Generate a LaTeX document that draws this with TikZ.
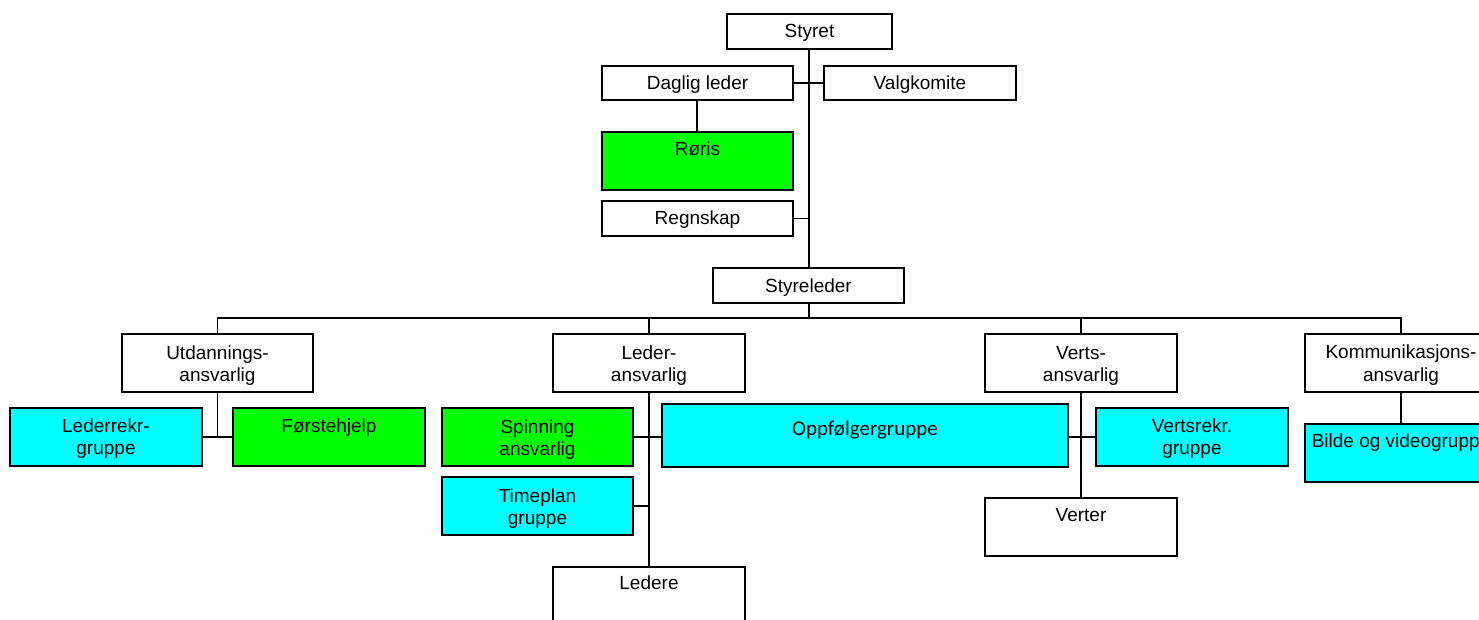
\documentclass[tikz,border=0pt]{standalone}
\usepackage{fontspec}
\setmainfont{Liberation Sans}
\newfontfamily\calfont{Carlito}
\definecolor{boxgreen}{RGB}{0,255,0}
\definecolor{boxcyan}{RGB}{0,255,255}
\begin{document}
\begin{tikzpicture}[x=1pt,y=-1pt,
  box/.style={draw=black,line width=1.2pt,inner sep=0pt,minimum height=35pt,minimum width=191pt},
  tall/.style={box,minimum height=58pt},
  greenbox/.style={fill=boxgreen},
  cyanbox/.style={fill=boxcyan},
  txt/.style={anchor=base,inner sep=0pt,font=\fontsize{19}{22}\selectfont},
  conn/.style={draw=black,line width=1.2pt}]
\useasboundingbox (0,0) rectangle (1479,620);
\clip (0,0) rectangle (1479,620);
\fill[white] (0,0) rectangle (1479,620);
% boxes
\node[box,minimum width=165pt] (styret) at (809.5,31.5) {};
\node[box,minimum height=34pt] (daglig) at (697.5,83) {};
\node[box,minimum height=34pt,minimum width=192pt] (valg) at (920,83) {};
\node[tall,greenbox] (roris) at (697.5,161) {};
\node[box] (regnskap) at (697.5,218.5) {};
\node[box] (styreleder) at (808.5,285.5) {};
\node[tall] (utd) at (217.5,363) {};
\node[tall,minimum width=192pt] (leder) at (649,363) {};
\node[tall,minimum width=192pt] (verts) at (1081,363) {};
\node[tall,minimum width=192pt] (komm) at (1401,363) {};
\node[tall,cyanbox,minimum width=192pt] (lederrekr) at (106,437) {};
\node[tall,greenbox,minimum width=192pt] (forste) at (329,437) {};
\node[tall,greenbox] (spinning) at (537.5,437) {};
\node[tall,cyanbox] (timeplan) at (537.5,506) {};
\node[box,cyanbox,line width=2.2pt,minimum width=406pt,minimum height=63pt] (oppf) at (865,435.5) {};
\node[tall,cyanbox,minimum width=192pt] (vertsrekr) at (1192,437) {};
\node[tall,minimum width=192pt] (verter) at (1081,527) {};
\node[tall,cyanbox,minimum width=192pt] (bilde) at (1401,453) {};
\node[tall,minimum width=192pt] (ledere) at (649,596) {};
% texts
\node[txt] (t-styret) at (809.5,38) {Styret};
\node[txt] (t-daglig) at (697.5,89.5) {Daglig leder};
\node[txt] (t-valg) at (920,89.5) {Valgkomite};
\node[txt] (t-roris) at (697.5,156) {Røris};
\node[txt] (t-regnskap) at (697.5,225) {Regnskap};
\node[txt] (t-styreleder) at (808.5,292) {Styreleder};
\node[txt] (t-utd1) at (217.5,359) {Utdannings-};
\node[txt] (t-utd2) at (217.5,381) {ansvarlig};
\node[txt] (t-leder1) at (649,359) {Leder-};
\node[txt] (t-leder2) at (649,381) {ansvarlig};
\node[txt] (t-verts1) at (1081,359) {Verts-};
\node[txt] (t-verts2) at (1081,381) {ansvarlig};
\node[txt] (t-komm1) at (1401,358) {Kommunikasjons-};
\node[txt] (t-komm2) at (1401,381) {ansvarlig};
\node[txt] (t-lederrekr1) at (106,432) {Lederrekr-};
\node[txt] (t-lederrekr2) at (106,454) {gruppe};
\node[txt] (t-forste) at (329,432) {Førstehjelp};
\node[txt] (t-spinning1) at (537.5,433) {Spinning};
\node[txt] (t-spinning2) at (537.5,455) {ansvarlig};
\node[txt] (t-timeplan1) at (537.5,502) {Timeplan};
\node[txt] (t-timeplan2) at (537.5,524) {gruppe};
\node[txt,font=\calfont\fontsize{21}{25}\selectfont] (t-oppf) at (865,435) {Oppfølgergruppe};
\node[txt] (t-vertsrekr1) at (1192,432) {Vertsrekr.};
\node[txt] (t-vertsrekr2) at (1192,454) {gruppe};
\node[txt] (t-verter) at (1081,521.5) {Verter};
\node[txt] (t-bilde) at (1401,447.5) {Bilde og videogruppe};
\node[txt] (t-ledere) at (649,589.5) {Ledere};
% connectors
\coordinate (bus) at (809,318);
\draw[conn] (809,49) -- (809,268);
\draw[conn] (daglig.east) -- (valg.west);
\draw[conn] (697,100) -- (697,132);
\draw[conn] (regnskap.east) -- (809,218.5);
\draw[conn] (809,303) -- (bus);
\draw[conn] (utd.north) |- (komm.north |- bus) -- (komm.north);
\draw[conn] (leder.north) -- (leder.north |- bus);
\draw[conn] (verts.north) -- (verts.north |- bus);
\draw[conn] (utd.south) -- (utd.south |- lederrekr.east);
\draw[conn] (lederrekr.east) -- (forste.west);
\draw[conn] (leder.south) -- (ledere.north);
\draw[conn] (spinning.east) -- (spinning.east -| oppf.west);
\draw[conn] (timeplan.east) -- (timeplan.east -| leder.south);
\draw[conn] (verts.south) -- (verter.north);
\draw[conn] (oppf.east |- vertsrekr.west) -- (vertsrekr.west);
\draw[conn] (komm.south) -- (bilde.north);
\end{tikzpicture}
\end{document}
